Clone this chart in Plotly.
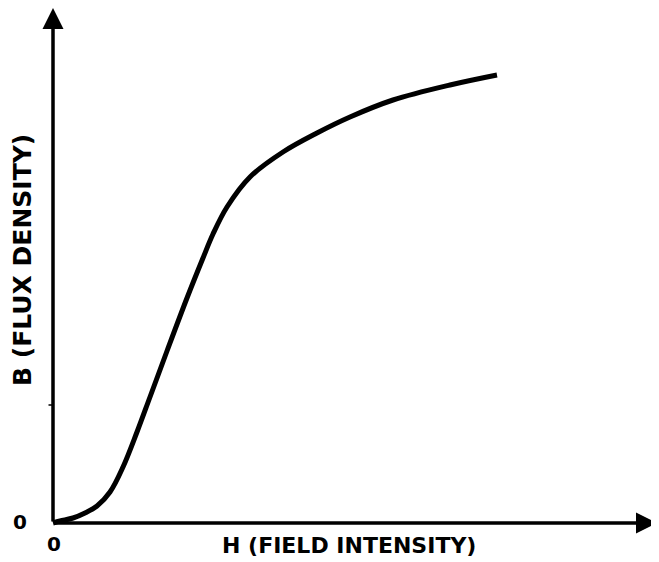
import plotly.graph_objects as go

# Magnetization (B-H) curve, arbitrary units
H = [0.0, 0.14, 0.4, 0.64, 0.88, 1.14, 1.4, 1.68, 1.94, 2.28, 2.68, 3.0, 3.2,
     3.48, 3.94, 4.6, 5.28, 5.94, 6.8, 7.94, 8.88]
B = [0.0, 0.04, 0.1, 0.2, 0.34, 0.62, 1.12, 1.82, 2.52, 3.44, 4.5, 5.3, 5.78,
     6.32, 6.92, 7.42, 7.8, 8.12, 8.46, 8.76, 8.96]

x_label = "H (FIELD INTENSITY)"
y_label = "B (FLUX DENSITY)"
zero_label = "0"
x_max = 12.08
y_max = 10.3
y_tick = 2.36

fig = go.Figure()
fig.add_trace(go.Scatter(x=H, y=B, mode="lines",
                         line=dict(color="black", width=5, shape="spline", smoothing=1.0),
                         hoverinfo="skip", showlegend=False))

# axes with arrows
fig.add_annotation(x=x_max, y=0, ax=0, ay=0, xref="x", yref="y", axref="x", ayref="y",
                   showarrow=True, arrowhead=2, arrowsize=1.2, arrowwidth=3.5, arrowcolor="black",
                   text="")
fig.add_annotation(x=0, y=y_max, ax=0, ay=0, xref="x", yref="y", axref="x", ayref="y",
                   showarrow=True, arrowhead=2, arrowsize=1.2, arrowwidth=3.5, arrowcolor="black",
                   text="")
# small tick on the y axis
fig.add_shape(type="line", x0=-0.09, x1=0, y0=y_tick, y1=y_tick,
              line=dict(color="black", width=1.5))

font_main = "DejaVu Sans"
fig.add_annotation(x=5.92, y=-0.44, text=x_label, showarrow=False,
                   font=dict(family=font_main, size=22, color="black", weight="bold"),
                   xref="x", yref="y")
fig.add_annotation(x=-0.62, y=5.26, text=y_label, showarrow=False, textangle=-90,
                   font=dict(family=font_main, size=25, color="black", weight="bold"),
                   xref="x", yref="y")
fig.add_annotation(x=-0.66, y=0.02, text=zero_label, showarrow=False,
                   font=dict(family=font_main, size=20, color="black", weight="bold"),
                   xref="x", yref="y")
fig.add_annotation(x=0.02, y=-0.42, text=zero_label, showarrow=False,
                   font=dict(family=font_main, size=20, color="black", weight="bold"),
                   xref="x", yref="y")

fig.update_layout(
    width=651, height=554,
    margin=dict(l=2, r=2, t=0, b=2),
    paper_bgcolor="white", plot_bgcolor="white",
    xaxis=dict(range=[-0.86, x_max], visible=False, fixedrange=True),
    yaxis=dict(range=[-0.74, y_max], visible=False, fixedrange=True),
    showlegend=False,
)

fig.write_html("out.html")
